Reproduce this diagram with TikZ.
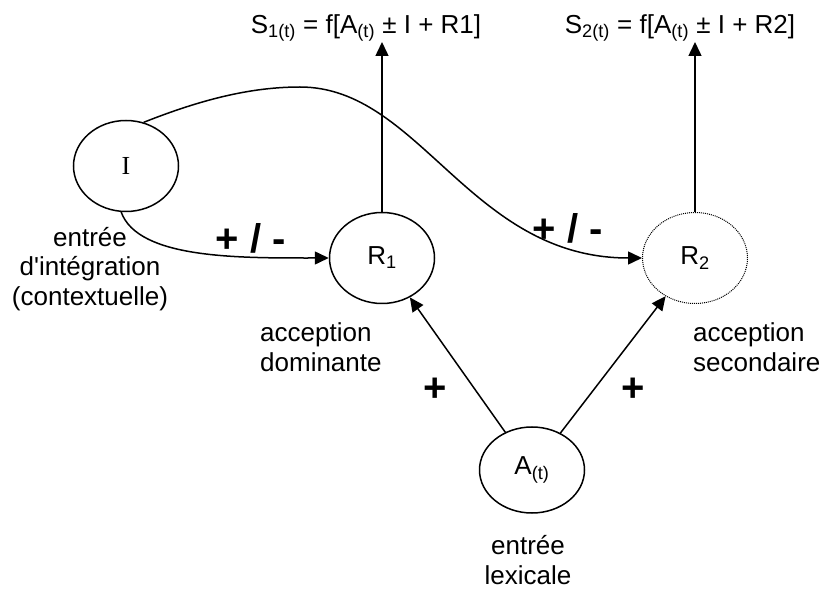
\documentclass[tikz,border=0pt]{standalone}
\usepackage{fontspec}
\setmainfont{Liberation Sans}
\newfontfamily\romanfont{Liberation Serif}
\usetikzlibrary{shapes.geometric,arrows.meta}

\begin{document}
\begin{tikzpicture}[x=1pt,y=1pt,font=\fontsize{26}{29.5}\selectfont]
	 \tikzstyle{vertex}=[ellipse,draw,line width=1.5pt,minimum width=105pt,minimum height=91pt,inner sep=0pt]
	 \tikzstyle{edge} = [draw,line width=1.5pt,-{Triangle[length=14pt,width=13pt]},black]
	 \tikzstyle{sign} = [font=\fontsize{40}{40}\selectfont\bfseries]
	 \tikzstyle{caption} = [align=center]
	 \useasboundingbox (0,0) rectangle (823,590);
	 \node[vertex] (I) at (126,424) {\romanfont I};
	 \node[vertex] (R1) at (382,332) {R\textsubscript{1}};
	 \node[vertex,line width=1pt,densely dotted] (R2) at (695,332) {R\textsubscript{2}};
	 \node[vertex,minimum height=86pt] (A) at (532,120) {A\textsubscript{(t)}};
	 \node[caption] (cI) at (90,321) {entrée\\d\textquotesingle intégration\\(contextuelle)};
	 \node[caption,align=left,anchor=west,inner sep=0pt] (cR1) at (260,243) {acception\\dominante};
	 \node[caption,align=left,anchor=west,inner sep=0pt] (cR2) at (693,243) {acception\\secondaire};
	 \node[caption] (cA) at (528,30) {entrée\\lexicale};
	 \node (S1) at (366,562) {S\textsubscript{1(t)} = f[A\textsubscript{(t)} ± I + R1]};
	 \node (S2) at (680,562) {S\textsubscript{2(t)} = f[A\textsubscript{(t)} ± I + R2]};
	 \coordinate (s1) at (382,548);
	 \coordinate (s2) at (695,548);
	 \node[sign] (pm1) at (251,352) {+ / -};
	 \node[sign] (pm2) at (568,362) {+ / -};
	 \node[sign] (p1) at (435,200) {+};
	 \node[sign] (p2) at (633,200) {+};
	 \draw[edge] (R1) -- (s1);
	 \draw[edge] (R2) -- (s2);
	 \draw[edge] (A) -- (R1);
	 \draw[edge] (A) -- (R2);
	 \draw[edge] (I.264) .. controls +(-70:50) and +(180:90) .. (R1.west);
	 \draw[edge] (I.68) .. controls (200,490) and (250,503) .. (300,503)
	    .. controls (420,503) and (470,332) .. (R2.west);
 \end{tikzpicture}
\end{document}
